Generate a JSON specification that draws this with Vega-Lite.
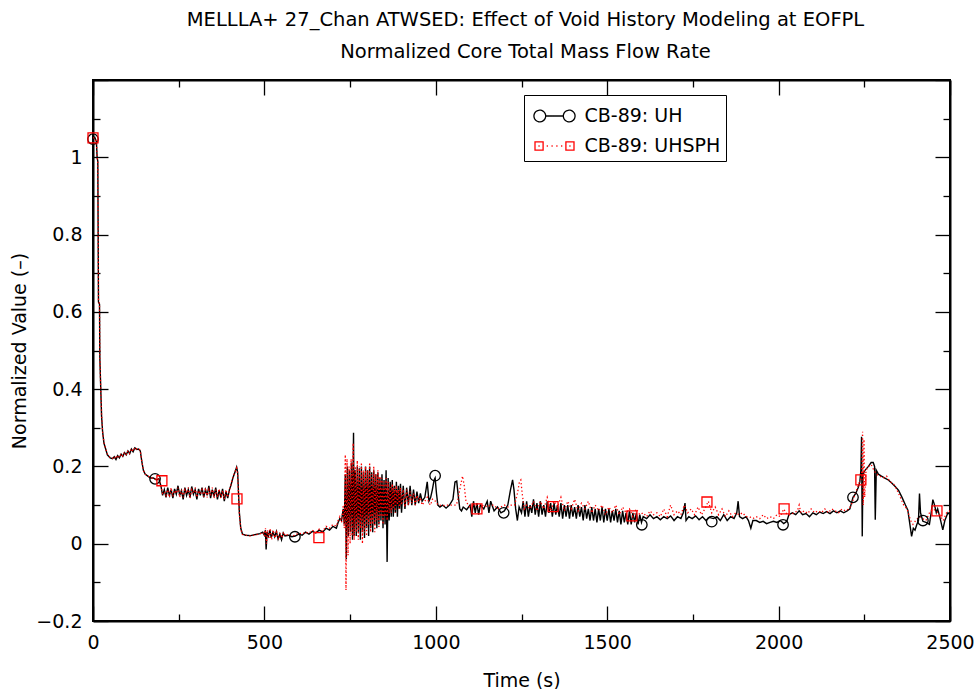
{
  "$schema": "https://vega.github.io/schema/vega-lite/v6.json",
  "width": 857,
  "height": 541,
  "autosize": {"type": "none"},
  "padding": {"left": 93, "top": 80, "right": 27, "bottom": 68},
  "background": "white",
  "title": {
    "text": ["MELLLA+ 27_Chan ATWSED: Effect of Void History Modeling at EOFPL", "Normalized Core Total Mass Flow Rate"],
    "font": "DejaVu Sans",
    "fontSize": 19.5,
    "fontWeight": "normal",
    "color": "black",
    "anchor": "middle",
    "frame": "group",
    "lineHeight": 32,
    "offset": 9,
    "dx": 4
  },
  "config": {
    "view": {"stroke": "black", "strokeWidth": 2},
    "axis": {
      "domainColor": "black", "domainWidth": 2,
      "tickColor": "black", "tickWidth": 1.3,
      "labelFont": "DejaVu Sans", "labelFontSize": 19, "labelColor": "black",
      "titleFont": "DejaVu Sans", "titleFontSize": 19, "titleFontWeight": "normal", "titleColor": "black",
      "grid": false, "labelFlush": false, "labelOverlap": false
    }
  },
  "datasets": {
    "uh": [
      {"t":0,"v":1.05},{"t":5,"v":1.052},{"t":10,"v":1.04},{"t":12,"v":1.0},{"t":14,"v":0.99},{"t":15,"v":0.8},{"t":16,"v":0.625},{"t":19,"v":0.62},{"t":20,"v":0.48},{"t":22,"v":0.42},{"t":25,"v":0.33},{"t":28,"v":0.29},{"t":32,"v":0.26},{"t":37,"v":0.245},{"t":42,"v":0.23},{"t":50,"v":0.222},{"t":57,"v":0.22},{"t":62,"v":0.225},{"t":67,"v":0.218},{"t":72,"v":0.228},{"t":77,"v":0.222},{"t":82,"v":0.232},{"t":87,"v":0.226},{"t":92,"v":0.236},{"t":97,"v":0.23},{"t":102,"v":0.24},{"t":107,"v":0.233},{"t":112,"v":0.245},{"t":117,"v":0.238},{"t":122,"v":0.248},{"t":128,"v":0.244},{"t":133,"v":0.245},{"t":138,"v":0.24},{"t":142,"v":0.215},{"t":147,"v":0.19},{"t":152,"v":0.18},{"t":160,"v":0.175},{"t":168,"v":0.17},{"t":176,"v":0.17},{"t":185,"v":0.165},{"t":192,"v":0.168},{"t":198,"v":0.15},{"t":203,"v":0.125},{"t":208,"v":0.14},{"t":213,"v":0.12},{"t":218,"v":0.145},{"t":223,"v":0.125},{"t":228,"v":0.14},{"t":233,"v":0.118},{"t":238,"v":0.142},{"t":243,"v":0.128},{"t":248,"v":0.15},{"t":253,"v":0.125},{"t":258,"v":0.138},{"t":263,"v":0.115},{"t":268,"v":0.145},{"t":273,"v":0.125},{"t":278,"v":0.14},{"t":283,"v":0.12},{"t":288,"v":0.148},{"t":293,"v":0.128},{"t":298,"v":0.14},{"t":303,"v":0.115},{"t":308,"v":0.142},{"t":313,"v":0.125},{"t":318,"v":0.145},{"t":323,"v":0.12},{"t":328,"v":0.14},{"t":333,"v":0.125},{"t":338,"v":0.15},{"t":343,"v":0.118},{"t":348,"v":0.14},{"t":353,"v":0.122},{"t":358,"v":0.145},{"t":363,"v":0.115},{"t":368,"v":0.138},{"t":373,"v":0.12},{"t":378,"v":0.142},{"t":383,"v":0.11},{"t":388,"v":0.135},{"t":393,"v":0.118},{"t":398,"v":0.14},{"t":402,"v":0.15},{"t":408,"v":0.17},{"t":414,"v":0.185},{"t":419,"v":0.198},{"t":422,"v":0.185},{"t":425,"v":0.12},{"t":427,"v":0.08},{"t":431,"v":0.04},{"t":436,"v":0.025},{"t":445,"v":0.022},{"t":460,"v":0.021},{"t":475,"v":0.024},{"t":487,"v":0.026},{"t":495,"v":0.03},{"t":500,"v":0.022},{"t":503,"v":0.035},{"t":505,"v":-0.015},{"t":508,"v":0.03},{"t":512,"v":0.02},{"t":516,"v":0.035},{"t":520,"v":0.015},{"t":525,"v":0.03},{"t":530,"v":0.018},{"t":535,"v":0.032},{"t":540,"v":0.012},{"t":545,"v":0.025},{"t":550,"v":0.01},{"t":555,"v":0.028},{"t":560,"v":0.02},{"t":570,"v":0.022},{"t":580,"v":0.018},{"t":590,"v":0.02},{"t":600,"v":0.025},{"t":610,"v":0.022},{"t":620,"v":0.03},{"t":630,"v":0.025},{"t":640,"v":0.032},{"t":650,"v":0.028},{"t":660,"v":0.035},{"t":670,"v":0.03},{"t":680,"v":0.04},{"t":690,"v":0.035},{"t":700,"v":0.045},{"t":710,"v":0.04},{"t":715,"v":0.055},{"t":720,"v":0.065},{"t":725,"v":0.06},{"t":730,"v":0.09},{"t":733,"v":0.05},{"t":736,"v":0.18},{"t":739,"v":-0.04},{"t":742,"v":0.2},{"t":745,"v":0.02},{"t":748,"v":0.19},{"t":751,"v":0.03},{"t":754,"v":0.21},{"t":757,"v":0.01},{"t":760,"v":0.287},{"t":762,"v":0.02},{"t":765,"v":0.19},{"t":768,"v":0.02},{"t":771,"v":0.2},{"t":774,"v":0.03},{"t":777,"v":0.195},{"t":780,"v":0.01},{"t":783,"v":0.2},{"t":786,"v":0.03},{"t":789,"v":0.185},{"t":792,"v":0.015},{"t":795,"v":0.2},{"t":798,"v":0.04},{"t":801,"v":0.19},{"t":804,"v":0.02},{"t":807,"v":0.2},{"t":810,"v":0.04},{"t":813,"v":0.185},{"t":816,"v":0.03},{"t":819,"v":0.19},{"t":822,"v":0.05},{"t":825,"v":0.18},{"t":828,"v":0.04},{"t":831,"v":0.185},{"t":834,"v":0.05},{"t":837,"v":0.17},{"t":840,"v":0.06},{"t":843,"v":0.18},{"t":846,"v":0.04},{"t":849,"v":0.165},{"t":852,"v":0.05},{"t":855,"v":0.19},{"t":858,"v":-0.047},{"t":861,"v":0.17},{"t":864,"v":0.06},{"t":867,"v":0.16},{"t":870,"v":0.07},{"t":873,"v":0.165},{"t":876,"v":0.07},{"t":879,"v":0.15},{"t":882,"v":0.08},{"t":885,"v":0.16},{"t":888,"v":0.07},{"t":891,"v":0.15},{"t":894,"v":0.09},{"t":897,"v":0.155},{"t":900,"v":0.08},{"t":905,"v":0.15},{"t":910,"v":0.09},{"t":915,"v":0.145},{"t":920,"v":0.1},{"t":925,"v":0.15},{"t":930,"v":0.1},{"t":935,"v":0.14},{"t":940,"v":0.1},{"t":945,"v":0.135},{"t":950,"v":0.105},{"t":955,"v":0.13},{"t":960,"v":0.11},{"t":968,"v":0.12},{"t":975,"v":0.16},{"t":980,"v":0.11},{"t":985,"v":0.12},{"t":990,"v":0.14},{"t":995,"v":0.165},{"t":998,"v":0.17},{"t":1002,"v":0.13},{"t":1006,"v":0.1},{"t":1012,"v":0.095},{"t":1020,"v":0.1},{"t":1030,"v":0.092},{"t":1040,"v":0.1},{"t":1050,"v":0.115},{"t":1056,"v":0.16},{"t":1061,"v":0.162},{"t":1066,"v":0.12},{"t":1070,"v":0.09},{"t":1075,"v":0.085},{"t":1080,"v":0.095},{"t":1090,"v":0.088},{"t":1100,"v":0.1},{"t":1105,"v":0.07},{"t":1110,"v":0.11},{"t":1115,"v":0.08},{"t":1120,"v":0.105},{"t":1125,"v":0.075},{"t":1130,"v":0.1},{"t":1140,"v":0.09},{"t":1150,"v":0.11},{"t":1155,"v":0.08},{"t":1160,"v":0.11},{"t":1170,"v":0.085},{"t":1180,"v":0.095},{"t":1190,"v":0.08},{"t":1200,"v":0.085},{"t":1210,"v":0.1},{"t":1218,"v":0.14},{"t":1224,"v":0.165},{"t":1228,"v":0.14},{"t":1233,"v":0.09},{"t":1238,"v":0.06},{"t":1243,"v":0.095},{"t":1250,"v":0.08},{"t":1255,"v":0.11},{"t":1260,"v":0.07},{"t":1265,"v":0.11},{"t":1270,"v":0.07},{"t":1275,"v":0.1},{"t":1280,"v":0.08},{"t":1285,"v":0.115},{"t":1290,"v":0.075},{"t":1295,"v":0.105},{"t":1300,"v":0.07},{"t":1305,"v":0.11},{"t":1310,"v":0.075},{"t":1315,"v":0.1},{"t":1320,"v":0.07},{"t":1325,"v":0.11},{"t":1330,"v":0.08},{"t":1335,"v":0.105},{"t":1340,"v":0.07},{"t":1345,"v":0.105},{"t":1350,"v":0.075},{"t":1355,"v":0.1},{"t":1360,"v":0.07},{"t":1365,"v":0.105},{"t":1370,"v":0.065},{"t":1375,"v":0.1},{"t":1380,"v":0.07},{"t":1385,"v":0.1},{"t":1390,"v":0.065},{"t":1395,"v":0.1},{"t":1400,"v":0.07},{"t":1405,"v":0.095},{"t":1410,"v":0.065},{"t":1415,"v":0.1},{"t":1420,"v":0.07},{"t":1425,"v":0.095},{"t":1430,"v":0.06},{"t":1435,"v":0.1},{"t":1440,"v":0.065},{"t":1445,"v":0.09},{"t":1450,"v":0.06},{"t":1455,"v":0.095},{"t":1460,"v":0.06},{"t":1465,"v":0.09},{"t":1470,"v":0.055},{"t":1475,"v":0.09},{"t":1480,"v":0.06},{"t":1485,"v":0.095},{"t":1490,"v":0.055},{"t":1495,"v":0.09},{"t":1500,"v":0.06},{"t":1505,"v":0.09},{"t":1510,"v":0.055},{"t":1515,"v":0.085},{"t":1520,"v":0.06},{"t":1525,"v":0.09},{"t":1530,"v":0.055},{"t":1535,"v":0.085},{"t":1540,"v":0.05},{"t":1545,"v":0.085},{"t":1550,"v":0.055},{"t":1555,"v":0.08},{"t":1560,"v":0.05},{"t":1565,"v":0.085},{"t":1570,"v":0.05},{"t":1575,"v":0.08},{"t":1580,"v":0.055},{"t":1585,"v":0.08},{"t":1590,"v":0.05},{"t":1595,"v":0.075},{"t":1600,"v":0.055},{"t":1605,"v":0.07},{"t":1615,"v":0.065},{"t":1625,"v":0.075},{"t":1635,"v":0.065},{"t":1645,"v":0.07},{"t":1655,"v":0.062},{"t":1665,"v":0.07},{"t":1675,"v":0.065},{"t":1685,"v":0.072},{"t":1695,"v":0.06},{"t":1705,"v":0.07},{"t":1715,"v":0.065},{"t":1722,"v":0.08},{"t":1727,"v":0.105},{"t":1730,"v":0.06},{"t":1738,"v":0.07},{"t":1748,"v":0.065},{"t":1758,"v":0.072},{"t":1768,"v":0.062},{"t":1778,"v":0.07},{"t":1788,"v":0.06},{"t":1798,"v":0.068},{"t":1810,"v":0.065},{"t":1820,"v":0.07},{"t":1830,"v":0.06},{"t":1840,"v":0.075},{"t":1850,"v":0.06},{"t":1860,"v":0.07},{"t":1870,"v":0.065},{"t":1878,"v":0.08},{"t":1882,"v":0.11},{"t":1886,"v":0.07},{"t":1895,"v":0.065},{"t":1905,"v":0.07},{"t":1912,"v":0.06},{"t":1919,"v":0.04},{"t":1925,"v":0.06},{"t":1935,"v":0.06},{"t":1945,"v":0.055},{"t":1955,"v":0.058},{"t":1965,"v":0.052},{"t":1975,"v":0.055},{"t":1985,"v":0.058},{"t":1995,"v":0.055},{"t":2005,"v":0.06},{"t":2015,"v":0.052},{"t":2024,"v":0.058},{"t":2030,"v":0.075},{"t":2040,"v":0.08},{"t":2050,"v":0.075},{"t":2060,"v":0.085},{"t":2070,"v":0.075},{"t":2080,"v":0.078},{"t":2090,"v":0.07},{"t":2100,"v":0.08},{"t":2110,"v":0.075},{"t":2120,"v":0.082},{"t":2130,"v":0.078},{"t":2140,"v":0.083},{"t":2150,"v":0.078},{"t":2160,"v":0.085},{"t":2170,"v":0.08},{"t":2180,"v":0.085},{"t":2190,"v":0.08},{"t":2200,"v":0.085},{"t":2208,"v":0.09},{"t":2217,"v":0.12},{"t":2225,"v":0.13},{"t":2232,"v":0.145},{"t":2237,"v":0.16},{"t":2240,"v":0.19},{"t":2242,"v":0.277},{"t":2244,"v":0.019},{"t":2246,"v":0.18},{"t":2252,"v":0.19},{"t":2262,"v":0.2},{"t":2270,"v":0.21},{"t":2276,"v":0.21},{"t":2280,"v":0.2},{"t":2282,"v":0.062},{"t":2285,"v":0.19},{"t":2291,"v":0.18},{"t":2300,"v":0.175},{"t":2310,"v":0.17},{"t":2320,"v":0.165},{"t":2330,"v":0.157},{"t":2340,"v":0.148},{"t":2350,"v":0.138},{"t":2360,"v":0.12},{"t":2370,"v":0.1},{"t":2377,"v":0.087},{"t":2383,"v":0.05},{"t":2388,"v":0.019},{"t":2393,"v":0.04},{"t":2398,"v":0.035},{"t":2403,"v":0.049},{"t":2408,"v":0.06},{"t":2411,"v":0.13},{"t":2414,"v":0.08},{"t":2421,"v":0.058},{"t":2430,"v":0.055},{"t":2440,"v":0.05},{"t":2445,"v":0.08},{"t":2450,"v":0.114},{"t":2455,"v":0.1},{"t":2460,"v":0.08},{"t":2464,"v":0.09},{"t":2470,"v":0.07},{"t":2479,"v":0.036},{"t":2485,"v":0.06},{"t":2494,"v":0.08},{"t":2500,"v":0.075}
    ],
    "sph": [
      {"t":0,"v":1.05},{"t":5,"v":1.05},{"t":10,"v":1.04},{"t":12,"v":1.0},{"t":14,"v":0.99},{"t":15,"v":0.8},{"t":16,"v":0.63},{"t":19,"v":0.62},{"t":20,"v":0.48},{"t":22,"v":0.42},{"t":25,"v":0.335},{"t":28,"v":0.29},{"t":32,"v":0.262},{"t":37,"v":0.246},{"t":42,"v":0.232},{"t":50,"v":0.223},{"t":57,"v":0.221},{"t":62,"v":0.226},{"t":67,"v":0.22},{"t":72,"v":0.229},{"t":77,"v":0.223},{"t":82,"v":0.233},{"t":87,"v":0.227},{"t":92,"v":0.237},{"t":97,"v":0.231},{"t":102,"v":0.241},{"t":107,"v":0.234},{"t":112,"v":0.246},{"t":117,"v":0.239},{"t":122,"v":0.249},{"t":128,"v":0.245},{"t":133,"v":0.246},{"t":138,"v":0.241},{"t":142,"v":0.216},{"t":147,"v":0.19},{"t":152,"v":0.18},{"t":160,"v":0.176},{"t":168,"v":0.17},{"t":176,"v":0.17},{"t":185,"v":0.165},{"t":192,"v":0.167},{"t":198,"v":0.15},{"t":203,"v":0.13},{"t":208,"v":0.135},{"t":213,"v":0.125},{"t":218,"v":0.14},{"t":223,"v":0.12},{"t":228,"v":0.145},{"t":233,"v":0.122},{"t":238,"v":0.138},{"t":243,"v":0.13},{"t":248,"v":0.145},{"t":253,"v":0.12},{"t":258,"v":0.14},{"t":263,"v":0.12},{"t":268,"v":0.14},{"t":273,"v":0.13},{"t":278,"v":0.145},{"t":283,"v":0.118},{"t":288,"v":0.14},{"t":293,"v":0.13},{"t":298,"v":0.145},{"t":303,"v":0.12},{"t":308,"v":0.138},{"t":313,"v":0.128},{"t":318,"v":0.14},{"t":323,"v":0.122},{"t":328,"v":0.145},{"t":333,"v":0.12},{"t":338,"v":0.14},{"t":343,"v":0.125},{"t":348,"v":0.145},{"t":353,"v":0.118},{"t":358,"v":0.14},{"t":363,"v":0.12},{"t":368,"v":0.142},{"t":373,"v":0.118},{"t":378,"v":0.138},{"t":383,"v":0.115},{"t":388,"v":0.14},{"t":393,"v":0.12},{"t":398,"v":0.138},{"t":402,"v":0.152},{"t":408,"v":0.172},{"t":414,"v":0.186},{"t":419,"v":0.196},{"t":422,"v":0.18},{"t":425,"v":0.115},{"t":427,"v":0.075},{"t":431,"v":0.038},{"t":436,"v":0.024},{"t":445,"v":0.022},{"t":460,"v":0.02},{"t":475,"v":0.023},{"t":487,"v":0.025},{"t":495,"v":0.03},{"t":500,"v":0.02},{"t":503,"v":0.04},{"t":506,"v":0.0},{"t":509,"v":0.035},{"t":513,"v":0.015},{"t":517,"v":0.04},{"t":521,"v":0.01},{"t":526,"v":0.035},{"t":531,"v":0.015},{"t":536,"v":0.03},{"t":541,"v":0.01},{"t":546,"v":0.028},{"t":551,"v":0.015},{"t":556,"v":0.03},{"t":561,"v":0.02},{"t":570,"v":0.025},{"t":580,"v":0.02},{"t":590,"v":0.022},{"t":600,"v":0.028},{"t":610,"v":0.025},{"t":620,"v":0.03},{"t":630,"v":0.027},{"t":640,"v":0.035},{"t":650,"v":0.03},{"t":660,"v":0.038},{"t":670,"v":0.032},{"t":680,"v":0.045},{"t":690,"v":0.04},{"t":700,"v":0.05},{"t":710,"v":0.045},{"t":715,"v":0.06},{"t":720,"v":0.07},{"t":725,"v":0.055},{"t":730,"v":0.1},{"t":733,"v":0.04},{"t":736,"v":0.23},{"t":738,"v":-0.12},{"t":741,"v":0.22},{"t":744,"v":-0.03},{"t":747,"v":0.2},{"t":750,"v":0.0},{"t":753,"v":0.22},{"t":756,"v":0.02},{"t":759,"v":0.26},{"t":762,"v":0.01},{"t":765,"v":0.2},{"t":768,"v":0.03},{"t":771,"v":0.215},{"t":774,"v":0.01},{"t":777,"v":0.2},{"t":780,"v":0.04},{"t":783,"v":0.21},{"t":786,"v":0.0},{"t":789,"v":0.19},{"t":792,"v":0.03},{"t":795,"v":0.2},{"t":798,"v":0.02},{"t":801,"v":0.19},{"t":804,"v":0.05},{"t":807,"v":0.21},{"t":810,"v":0.03},{"t":813,"v":0.18},{"t":816,"v":0.05},{"t":819,"v":0.2},{"t":822,"v":0.03},{"t":825,"v":0.18},{"t":828,"v":0.06},{"t":831,"v":0.19},{"t":834,"v":0.04},{"t":837,"v":0.175},{"t":840,"v":0.07},{"t":843,"v":0.17},{"t":846,"v":0.05},{"t":849,"v":0.16},{"t":852,"v":0.07},{"t":855,"v":0.17},{"t":858,"v":0.06},{"t":861,"v":0.16},{"t":864,"v":0.08},{"t":867,"v":0.15},{"t":870,"v":0.08},{"t":873,"v":0.155},{"t":876,"v":0.09},{"t":879,"v":0.145},{"t":882,"v":0.08},{"t":885,"v":0.15},{"t":888,"v":0.1},{"t":891,"v":0.14},{"t":894,"v":0.09},{"t":897,"v":0.145},{"t":900,"v":0.1},{"t":905,"v":0.14},{"t":910,"v":0.095},{"t":915,"v":0.14},{"t":920,"v":0.1},{"t":925,"v":0.135},{"t":930,"v":0.105},{"t":935,"v":0.13},{"t":940,"v":0.1},{"t":945,"v":0.125},{"t":950,"v":0.11},{"t":955,"v":0.12},{"t":960,"v":0.1},{"t":968,"v":0.11},{"t":975,"v":0.12},{"t":980,"v":0.105},{"t":985,"v":0.1},{"t":990,"v":0.115},{"t":995,"v":0.11},{"t":1000,"v":0.11},{"t":1006,"v":0.1},{"t":1012,"v":0.1},{"t":1020,"v":0.098},{"t":1030,"v":0.1},{"t":1040,"v":0.1},{"t":1050,"v":0.1},{"t":1060,"v":0.1},{"t":1066,"v":0.12},{"t":1072,"v":0.15},{"t":1078,"v":0.175},{"t":1083,"v":0.15},{"t":1088,"v":0.11},{"t":1095,"v":0.1},{"t":1100,"v":0.095},{"t":1110,"v":0.1},{"t":1120,"v":0.1},{"t":1130,"v":0.095},{"t":1140,"v":0.1},{"t":1150,"v":0.095},{"t":1160,"v":0.1},{"t":1170,"v":0.1},{"t":1180,"v":0.09},{"t":1190,"v":0.095},{"t":1200,"v":0.1},{"t":1210,"v":0.095},{"t":1220,"v":0.1},{"t":1230,"v":0.1},{"t":1238,"v":0.13},{"t":1244,"v":0.16},{"t":1248,"v":0.165},{"t":1252,"v":0.13},{"t":1258,"v":0.09},{"t":1265,"v":0.1},{"t":1275,"v":0.09},{"t":1285,"v":0.11},{"t":1295,"v":0.085},{"t":1305,"v":0.11},{"t":1315,"v":0.09},{"t":1325,"v":0.12},{"t":1335,"v":0.085},{"t":1345,"v":0.11},{"t":1355,"v":0.095},{"t":1365,"v":0.12},{"t":1375,"v":0.085},{"t":1385,"v":0.11},{"t":1395,"v":0.09},{"t":1405,"v":0.115},{"t":1415,"v":0.085},{"t":1425,"v":0.105},{"t":1435,"v":0.09},{"t":1445,"v":0.11},{"t":1455,"v":0.08},{"t":1465,"v":0.1},{"t":1475,"v":0.085},{"t":1485,"v":0.1},{"t":1495,"v":0.075},{"t":1505,"v":0.095},{"t":1515,"v":0.08},{"t":1525,"v":0.1},{"t":1535,"v":0.075},{"t":1545,"v":0.095},{"t":1555,"v":0.08},{"t":1565,"v":0.09},{"t":1575,"v":0.07},{"t":1585,"v":0.09},{"t":1595,"v":0.075},{"t":1605,"v":0.08},{"t":1615,"v":0.07},{"t":1625,"v":0.085},{"t":1635,"v":0.075},{"t":1645,"v":0.08},{"t":1655,"v":0.07},{"t":1665,"v":0.09},{"t":1675,"v":0.07},{"t":1685,"v":0.1},{"t":1695,"v":0.075},{"t":1705,"v":0.085},{"t":1715,"v":0.075},{"t":1725,"v":0.1},{"t":1735,"v":0.08},{"t":1745,"v":0.09},{"t":1755,"v":0.075},{"t":1765,"v":0.095},{"t":1775,"v":0.075},{"t":1785,"v":0.09},{"t":1795,"v":0.11},{"t":1805,"v":0.08},{"t":1815,"v":0.095},{"t":1825,"v":0.075},{"t":1835,"v":0.09},{"t":1845,"v":0.07},{"t":1855,"v":0.085},{"t":1865,"v":0.07},{"t":1875,"v":0.08},{"t":1885,"v":0.075},{"t":1895,"v":0.08},{"t":1905,"v":0.07},{"t":1915,"v":0.07},{"t":1925,"v":0.065},{"t":1935,"v":0.07},{"t":1945,"v":0.065},{"t":1955,"v":0.075},{"t":1965,"v":0.065},{"t":1975,"v":0.07},{"t":1985,"v":0.065},{"t":1995,"v":0.075},{"t":2005,"v":0.07},{"t":2015,"v":0.09},{"t":2025,"v":0.075},{"t":2035,"v":0.075},{"t":2045,"v":0.08},{"t":2055,"v":0.085},{"t":2060,"v":0.1},{"t":2065,"v":0.08},{"t":2075,"v":0.085},{"t":2085,"v":0.078},{"t":2095,"v":0.09},{"t":2105,"v":0.08},{"t":2115,"v":0.085},{"t":2125,"v":0.08},{"t":2135,"v":0.09},{"t":2145,"v":0.08},{"t":2155,"v":0.09},{"t":2165,"v":0.085},{"t":2175,"v":0.08},{"t":2185,"v":0.09},{"t":2195,"v":0.085},{"t":2205,"v":0.09},{"t":2212,"v":0.1},{"t":2220,"v":0.12},{"t":2228,"v":0.14},{"t":2236,"v":0.16},{"t":2242,"v":0.17},{"t":2245,"v":0.29},{"t":2247,"v":0.1},{"t":2249,"v":0.27},{"t":2251,"v":0.12},{"t":2255,"v":0.19},{"t":2262,"v":0.2},{"t":2270,"v":0.205},{"t":2278,"v":0.19},{"t":2285,"v":0.18},{"t":2295,"v":0.175},{"t":2305,"v":0.17},{"t":2315,"v":0.175},{"t":2325,"v":0.16},{"t":2335,"v":0.155},{"t":2345,"v":0.14},{"t":2355,"v":0.12},{"t":2365,"v":0.1},{"t":2375,"v":0.09},{"t":2385,"v":0.06},{"t":2392,"v":0.05},{"t":2400,"v":0.06},{"t":2410,"v":0.07},{"t":2420,"v":0.065},{"t":2430,"v":0.06},{"t":2440,"v":0.08},{"t":2450,"v":0.09},{"t":2460,"v":0.085},{"t":2470,"v":0.075},{"t":2480,"v":0.06},{"t":2490,"v":0.08},{"t":2500,"v":0.085}
    ],
    "mUH": [
      {"t":0,"v":1.047},{"t":181,"v":0.168},{"t":589,"v":0.018},{"t":998,"v":0.176},{"t":1198,"v":0.08},{"t":1601,"v":0.049},{"t":1805,"v":0.057},{"t":2013,"v":0.049},{"t":2217,"v":0.12},{"t":2421,"v":0.06}
    ],
    "mSPH": [
      {"t":0,"v":1.05},{"t":201,"v":0.163},{"t":420,"v":0.116},{"t":659,"v":0.016},{"t":1120,"v":0.09},{"t":1342,"v":0.096},{"t":1572,"v":0.072},{"t":1791,"v":0.108},{"t":2016,"v":0.09},{"t":2240,"v":0.165},{"t":2462,"v":0.085}
    ]
  },
  "layer": [
    {
      "data": {"name": "uh"},
      "mark": {"type": "line", "strokeWidth": 1.4, "clip": true},
      "encoding": {
        "x": {"field": "t", "type": "quantitative", "scale": {"domain": [0, 2500], "nice": false},
          "axis": {"orient": "bottom", "title": "Time (s)", "titlePadding": 11,
            "values": [0,250,500,750,1000,1250,1500,1750,2000,2250,2500],
            "labelExpr": "datum.value % 500 == 0 ? format(datum.value, 'd') : ''",
            "tickSize": {"condition": {"test": "datum.value % 500 == 0", "value": -15}, "value": -7},
            "labelPadding": 27}},
        "y": {"field": "v", "type": "quantitative", "scale": {"domain": [-0.2, 1.2], "nice": false, "zero": false},
          "axis": {"orient": "left", "title": "Normalized Value (–)", "titlePadding": 6,
            "values": [-0.2,-0.1,0,0.1,0.2,0.3,0.4,0.5,0.6,0.7,0.8,0.9,1,1.1,1.2],
            "labelExpr": "abs(round(datum.value*10)) % 2 == 0 && datum.value < 1.1 ? format(datum.value, '~g') : ''",
            "tickSize": {"condition": {"test": "abs(round(datum.value*10)) % 2 == 0", "value": -15}, "value": -7},
            "labelPadding": 26}},
        "color": {"datum": "CB-89: UH", "type": "nominal",
          "scale": {"domain": ["CB-89: UH", "CB-89: UHSPH"], "range": ["black", "red"]},
          "legend": {
            "title": null, "orient": "none", "legendX": 431, "legendY": 15,
            "strokeColor": "black", "fillColor": "white", "padding": 5,
            "labelFont": "DejaVu Sans", "labelFontSize": 19, "labelColor": "black",
            "symbolSize": 900, "symbolOffset": 9.5, "labelOffset": 14, "rowPadding": 4,
            "symbolStrokeWidth": 1.3,
            "encode": {"symbols": {"update": {
              "shape": {"signal": "datum.value === 'CB-89: UH' ? 'M-1.37,0A0.39,0.39,0,1,1,-0.59,0A0.39,0.39,0,1,1,-1.37,0M-0.59,0L0.59,0M0.59,0A0.39,0.39,0,1,1,1.37,0A0.39,0.39,0,1,1,0.59,0' : 'M-1.3,-0.27H-0.76V0.27H-1.3ZM0.76,-0.27H1.3V0.27H0.76ZM-1.07,0H-0.99M-0.52,0H-0.44M-0.2,0H-0.12M0.12,0H0.2M0.44,0H0.52M0.99,0H1.07'"},
              "fill": {"value": "transparent"},
              "strokeDash": {"value": [1, 0]}
            }}}
          }}
      }
    },
    {
      "data": {"name": "sph"},
      "mark": {"type": "line", "strokeWidth": 1.3, "strokeDash": [1.3, 2.4], "clip": true},
      "encoding": {
        "x": {"field": "t", "type": "quantitative",
          "axis": {"orient": "top", "title": null, "labels": false,
            "values": [0,250,500,750,1000,1250,1500,1750,2000,2250,2500],
            "tickSize": {"condition": {"test": "datum.value % 500 == 0", "value": -15}, "value": -7}}},
        "y": {"field": "v", "type": "quantitative",
          "axis": {"orient": "right", "title": null, "labels": false,
            "values": [-0.2,-0.1,0,0.1,0.2,0.3,0.4,0.5,0.6,0.7,0.8,0.9,1,1.1,1.2],
            "tickSize": {"condition": {"test": "abs(round(datum.value*10)) % 2 == 0", "value": -15}, "value": -7}}},
        "color": {"datum": "CB-89: UHSPH", "type": "nominal"}
      }
    },
    {
      "data": {"name": "mUH"},
      "mark": {"type": "point", "shape": "circle", "filled": false, "size": 110, "strokeWidth": 1.3, "opacity": 1},
      "encoding": {
        "x": {"field": "t", "type": "quantitative", "axis": null},
        "y": {"field": "v", "type": "quantitative", "axis": null},
        "color": {"datum": "CB-89: UH", "type": "nominal"}
      }
    },
    {
      "data": {"name": "mSPH"},
      "mark": {"type": "point", "shape": "square", "filled": false, "size": 100, "strokeWidth": 1.3, "opacity": 1},
      "encoding": {
        "x": {"field": "t", "type": "quantitative", "axis": null},
        "y": {"field": "v", "type": "quantitative", "axis": null},
        "color": {"datum": "CB-89: UHSPH", "type": "nominal"}
      }
    }
  ],
  "resolve": {"axis": {"x": "independent", "y": "independent"}}
}
